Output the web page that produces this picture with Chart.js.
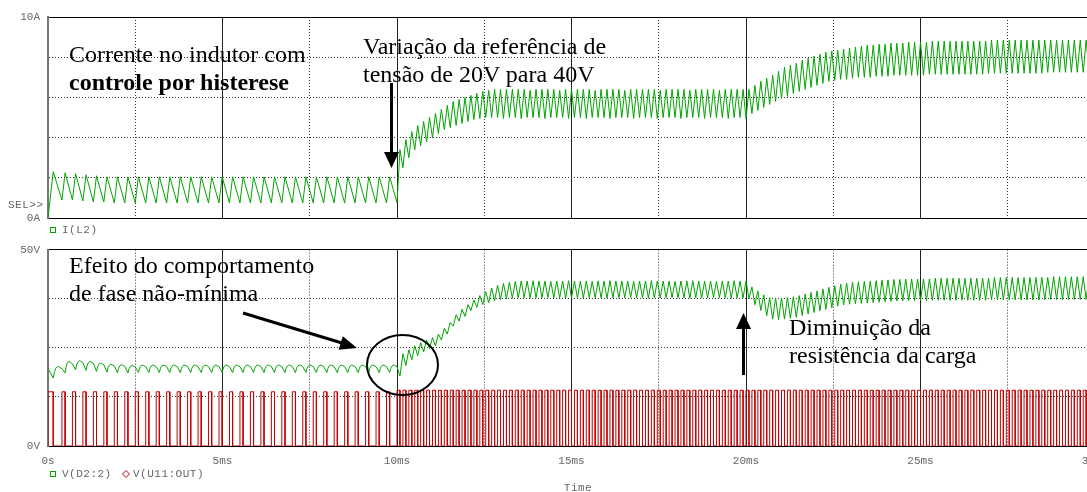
<!DOCTYPE html>
<html>
<head>
<meta charset="utf-8">
<script src="https://cdn.jsdelivr.net/npm/chart.js@4.4.1/dist/chart.umd.min.js"></script>
<style>
  html, body { margin: 0; padding: 0; background: #fff; overflow: hidden; }
  #caixa { position: relative; width: 1087px; height: 492px; overflow: hidden; }
  canvas { position: absolute; left: 0; }
  #topo { top: 0; }
  #baixo { top: 235px; }
  .nota { position: absolute; font-family: "Liberation Serif", "Times New Roman", serif; font-size: 24px; line-height: 28px; color: #000; white-space: nowrap; }
  svg { position: absolute; left: 0; top: 0; }
</style>
</head>
<body>
<div id="caixa">
  <canvas id="topo" width="1125" height="235"></canvas>
  <canvas id="baixo" width="1125" height="257"></canvas>

  <div class="nota" style="left:69px; top:40px">Corrente no indutor com<br><b>controle por histerese</b></div>
  <div class="nota" style="left:363px; top:32px">Variação da referência de<br>tensão de 20V para 40V</div>
  <div class="nota" style="left:69px; top:251px">Efeito do comportamento<br>de fase não-mínima</div>
  <div class="nota" style="left:789px; top:313px">Diminuição da<br>resistência da carga</div>

  <svg width="1087" height="492">
    <line x1="391.5" y1="83" x2="391.5" y2="153" stroke="#000" stroke-width="3"/>
    <polygon points="384,152 399,152 391.5,168" fill="#000"/>
    <line x1="243" y1="313" x2="342" y2="343" stroke="#000" stroke-width="3"/>
    <polygon points="338.6,349.7 342.8,336.3 357,348" fill="#000"/>
    <line x1="743.5" y1="375" x2="743.5" y2="328" stroke="#000" stroke-width="3"/>
    <polygon points="736,329 751,329 743.5,313" fill="#000"/>
    <ellipse cx="402.5" cy="365" rx="35.5" ry="30" fill="none" stroke="#000" stroke-width="2"/>
  </svg>
</div>

<script>
"use strict"

// ---- dados (tempo em ms) ----
// 0 a 10 ms: referência de 20 V
const primeiroPeriodo = 0.4
const primeiroLigado = 0.15
const periodoA = 0.3
const ligadoA = 0.09
const pulsoA = 13.8
const vInicio = 19.75

const iValeA = [0, 0.9, 0.9, 0.85, 0.8, 0.8, 0.75, 0.75, 0.75, 0.75, 0.75, 0.75, 0.75, 0.75, 0.75, 0.75, 0.75,
                0.75, 0.75, 0.75, 0.75, 0.75, 0.75, 0.75, 0.75, 0.75, 0.75, 0.75, 0.75, 0.75, 0.75, 0.75, 0.75]
const iPicoA = [2.3, 2.25, 2.2, 2.15, 2.1, 2.05, 2.05, 2.05, 2.05, 2.05, 2.05, 2.05, 2.05, 2.05, 2.05, 2.05, 2.05,
                2.05, 2.05, 2.05, 2.05, 2.05, 2.05, 2.05, 2.05, 2.05, 2.05, 2.05, 2.05, 2.05, 2.05, 2.05, 2.05]
const vValeA = [17.3, 18.6, 19.4, 19.25, 19.0, 18.8, 18.6, 18.6, 18.7, 18.7, 18.7, 18.7, 18.7, 18.7, 18.7, 18.7, 18.7,
                18.7, 18.7, 18.7, 18.7, 18.7, 18.7, 18.7, 18.7, 18.7, 18.7, 18.7, 18.7, 18.7, 18.7, 18.7, 18.7]
const vPicoA = [20.25, 21.5, 21.7, 21.5, 21.1, 20.8, 20.7, 20.5, 20.6, 20.6, 20.6, 20.6, 20.6, 20.6, 20.6, 20.6, 20.6,
                20.6, 20.6, 20.6, 20.6, 20.6, 20.6, 20.6, 20.6, 20.6, 20.6, 20.6, 20.6, 20.6, 20.6, 20.6, 20.6]

// 10 a 30 ms: referência de 40 V, carga muda em 20 ms
const inicioB = 10
const periodoB = 0.1695
const ligadoB = 0.085
const pulsoB = 14.2

const iValeB = [
  0.75, 2.5, 3.0, 3.4, 3.6, 3.8, 4.0, 4.2, 4.4, 4.5,
  4.6, 4.7, 4.8, 4.9, 4.95, 5.0, 5.0, 5.0, 4.95, 5.0,
  5.0, 4.95, 5.0, 5.0, 5.0, 4.95, 5.0, 5.0, 5.0, 4.95,
  5.0, 5.0, 4.95, 5.0, 5.0, 5.0, 4.95, 5.0, 5.0, 5.0,
  4.95, 5.0, 5.0, 5.0, 4.95, 5.0, 5.0, 5.0, 4.95, 5.0,
  5.0, 5.0, 4.95, 5.0, 5.0, 5.0, 4.95, 5.0, 5.0, 4.95,
  5.2, 5.35, 5.5, 5.65, 5.8, 5.95, 6.05, 6.2, 6.3, 6.4,
  6.5, 6.6, 6.7, 6.8, 6.85, 6.9, 6.9, 6.95, 7.0, 7.0,
  7.0, 7.05, 7.05, 7.05, 7.1, 7.1, 7.1, 7.1, 7.1, 7.1,
  7.15, 7.15, 7.15, 7.15, 7.15, 7.15, 7.15, 7.15, 7.15, 7.15,
  7.2, 7.2, 7.2, 7.2, 7.2, 7.2, 7.2, 7.2, 7.2, 7.2,
  7.25, 7.25, 7.25, 7.25, 7.25, 7.25, 7.25, 7.25]
const iPicoB = [
  3.4, 3.9, 4.3, 4.6, 4.8, 5.0, 5.2, 5.4, 5.6, 5.8,
  5.9, 6.0, 6.1, 6.2, 6.3, 6.35, 6.4, 6.4, 6.4, 6.4,
  6.4, 6.4, 6.35, 6.4, 6.4, 6.4, 6.4, 6.35, 6.4, 6.4,
  6.4, 6.4, 6.4, 6.35, 6.4, 6.4, 6.4, 6.4, 6.35, 6.4,
  6.4, 6.4, 6.4, 6.4, 6.35, 6.4, 6.4, 6.4, 6.4, 6.35,
  6.4, 6.4, 6.4, 6.4, 6.35, 6.4, 6.4, 6.4, 6.4, 6.4,
  6.6, 6.8, 6.95, 7.1, 7.3, 7.5, 7.6, 7.7, 7.85, 7.95,
  8.05, 8.15, 8.25, 8.3, 8.35, 8.4, 8.45, 8.5, 8.55, 8.6,
  8.6, 8.65, 8.65, 8.7, 8.7, 8.7, 8.75, 8.75, 8.75, 8.75,
  8.8, 8.8, 8.8, 8.8, 8.8, 8.8, 8.8, 8.8, 8.8, 8.8,
  8.85, 8.85, 8.85, 8.85, 8.85, 8.85, 8.85, 8.85, 8.85, 8.85,
  8.85, 8.85, 8.85, 8.85, 8.85, 8.85, 8.85, 8.85]
const vValeB = [
  17.8, 20.5, 22.0, 23.0, 24.0, 24.8, 25.5, 27.0, 28.5, 30.5,
  31.8, 33.0, 34.5, 35.3, 36.0, 36.5, 37.0, 37.3, 37.5, 37.6,
  37.7, 37.7, 37.6, 37.7, 37.7, 37.8, 37.7, 37.7, 37.6, 37.7,
  37.7, 37.7, 37.8, 37.7, 37.7, 37.6, 37.7, 37.7, 37.7, 37.8,
  37.7, 37.7, 37.6, 37.7, 37.7, 37.7, 37.8, 37.7, 37.7, 37.6,
  37.7, 37.7, 37.7, 37.8, 37.7, 37.7, 37.6, 37.7, 37.7, 37.5,
  36.0, 34.5, 33.2, 32.3, 32.2, 32.3, 32.5, 32.8, 33.2, 33.6,
  34.0, 34.4, 34.8, 35.2, 35.6, 35.9, 36.1, 36.2, 36.3, 36.4,
  36.5, 36.6, 36.7, 36.8, 36.9, 37.0, 37.0, 37.0, 37.0, 37.0,
  37.1, 37.1, 37.1, 37.1, 37.1, 37.1, 37.1, 37.1, 37.1, 37.1,
  37.2, 37.2, 37.2, 37.2, 37.2, 37.2, 37.2, 37.2, 37.2, 37.2,
  37.3, 37.3, 37.3, 37.3, 37.3, 37.3, 37.3, 37.3]
const vPicoB = [
  23.5, 24.5, 25.5, 26.3, 27.0, 27.6, 28.5, 30.0, 31.5, 33.4,
  34.8, 36.0, 37.2, 38.3, 39.3, 40.2, 40.9, 41.4, 41.7, 41.9,
  42.0, 42.0, 42.1, 42.0, 42.0, 41.9, 42.0, 42.0, 42.1, 42.0,
  42.0, 42.0, 41.9, 42.0, 42.0, 42.1, 42.0, 42.0, 42.0, 41.9,
  42.0, 42.0, 42.1, 42.0, 42.0, 42.0, 41.9, 42.0, 42.0, 42.1,
  42.0, 42.0, 42.0, 41.9, 42.0, 42.0, 42.1, 42.0, 42.0, 40.5,
  39.5, 38.5, 37.8, 37.7, 37.7, 37.8, 38.0, 38.3, 38.7, 39.1,
  39.5, 40.0, 40.4, 40.8, 41.2, 41.5, 41.7, 41.8, 41.9, 42.0,
  42.1, 42.2, 42.3, 42.4, 42.4, 42.5, 42.5, 42.5, 42.5, 42.5,
  42.7, 42.7, 42.7, 42.7, 42.7, 42.7, 42.7, 42.7, 42.7, 42.7,
  42.9, 42.9, 42.9, 42.9, 42.9, 42.9, 42.9, 42.9, 42.9, 42.9,
  43.1, 43.1, 43.1, 43.1, 43.1, 43.1, 43.1, 43.1]

// forma da tensão depois do desligamento (fração do tempo desligado, fração vale->pico)
const formaCorcova = [[0.15, 0.55], [0.3, 0.85], [0.5, 1], [0.7, 0.95], [1, 0.8]]

const tempoMax = 30
const rotulosX = ["0s", "5ms", "10ms", "15ms", "20ms", "25ms", "30ms"]

// ---- montagem das séries ----
let pontosI = []
let pontosV = [{x: 0, y: vInicio}]
let pontosPulso = []

let t = 0
for (let k = 0; k < iValeA.length; k++) {
    let T = k == 0 ? primeiroPeriodo : periodoA
    let on = k == 0 ? primeiroLigado : ligadoA
    pontosI.push({x: t, y: iValeA[k]}, {x: t + on, y: iPicoA[k]})
    pontosV.push({x: t + on, y: vValeA[k]})
    formaCorcova.forEach(f => {
        pontosV.push({x: t + on + f[0] * (T - on), y: vValeA[k] + f[1] * (vPicoA[k] - vValeA[k])})
    })
    pontosPulso.push({x: t, y: 0}, {x: t, y: pulsoA}, {x: t + on, y: pulsoA}, {x: t + on, y: 0})
    t += T
}
for (let k = 0; k < iValeB.length; k++) {
    let t0 = inicioB + k * periodoB
    pontosI.push({x: t0, y: iValeB[k]}, {x: t0 + ligadoB, y: iPicoB[k]})
    pontosV.push({x: t0 + ligadoB, y: vValeB[k]}, {x: t0 + periodoB, y: vPicoB[k]})
    pontosPulso.push({x: t0, y: 0}, {x: t0, y: pulsoB}, {x: t0 + ligadoB, y: pulsoB}, {x: t0 + ligadoB, y: 0})
}
pontosI.push({x: tempoMax, y: iValeB[iValeB.length - 1]})
pontosPulso.push({x: tempoMax, y: 0})

// ---- aparência ----
const verde = "#00a400"
const vermelho = "#c40000"
const cinza = "#666"
const fonteMono = {family: "'Liberation Mono', 'DejaVu Sans Mono', monospace", size: 11}

Chart.defaults.animation = false
Chart.defaults.responsive = false
Chart.defaults.devicePixelRatio = 1

function eixoX(comRotulos, altura) {
    return {
        type: "linear", min: 0, max: tempoMax,
        ticks: {
            stepSize: 2.5, autoSkip: false, maxRotation: 0, display: comRotulos,
            padding: 8, color: cinza, font: fonteMono,
            callback: v => v % 5 == 0 ? rotulosX[v / 5] : ""
        },
        grid: { drawTicks: false, color: c => (c.tick && c.tick.value % 5 == 0) ? "#222" : "#333" },
        border: { color: "#000", dash: c => (c.tick && c.tick.value % 5 != 0) ? [1, 2] : [] },
        afterFit: s => { s.height = altura }
    }
}

function eixoY(max, passo, unidade) {
    return {
        min: 0, max: max,
        ticks: {
            stepSize: passo, padding: 8, color: cinza, font: fonteMono,
            callback: v => (v == 0 || v == max) ? v + unidade : ""
        },
        grid: { drawTicks: false, color: c => (c.tick && c.tick.value == max) ? "#000" : "#333" },
        border: { color: "#777", width: 2, dash: c => (c.tick && c.tick.value > 0 && c.tick.value < max) ? [1, 2] : [] },
        afterFit: s => { s.width = 48 }
    }
}

function textoMono(ctx, texto, x, y, cor, alinhar) {
    ctx.font = "11px 'Liberation Mono', monospace"
    ctx.letterSpacing = "0.5px"
    ctx.fillStyle = cor
    ctx.textAlign = alinhar || "left"
    ctx.textBaseline = "middle"
    ctx.fillText(texto, x, y)
}

let grafTopo = new Chart(document.querySelector("#topo"), {
    type: "line",
    data: {
        datasets: [{
            label: "I(L2)",
            data: pontosI,
            borderColor: verde,
            borderWidth: 1,
            pointRadius: 0,
            tension: 0
        }]
    },
    options: {
        layout: { padding: { top: 17, right: 30, left: 0, bottom: 0 } },
        plugins: { legend: { display: false }, tooltip: { enabled: false } },
        scales: { x: eixoX(false, 17), y: eixoY(10, 2, "A") }
    },
    plugins: [{
        id: "legendaTopo",
        afterDraw(chart) {
            let ctx = chart.ctx
            ctx.save()
            textoMono(ctx, "SEL>>", 8, 205, cinza)
            ctx.strokeStyle = verde
            ctx.lineWidth = 1
            ctx.strokeRect(50.5, 227.5, 5, 5)
            textoMono(ctx, chart.data.datasets[0].label, 62, 230, cinza)
            ctx.restore()
        }
    }]
})

let grafBaixo = new Chart(document.querySelector("#baixo"), {
    type: "line",
    data: {
        datasets: [{
            label: "V(D2:2)",
            data: pontosV,
            borderColor: verde,
            borderWidth: 1,
            pointRadius: 0,
            tension: 0
        }, {
            label: "V(U11:OUT)",
            data: pontosPulso,
            borderColor: vermelho,
            borderWidth: 1,
            pointRadius: 0,
            tension: 0
        }]
    },
    options: {
        layout: { padding: { top: 10, right: 30, left: 0, bottom: 0 } },
        plugins: { legend: { display: false }, tooltip: { enabled: false } },
        scales: { x: eixoX(true, 46), y: eixoY(50, 12.5, "V") }
    },
    plugins: [{
        id: "legendaBaixo",
        afterDraw(chart) {
            let ctx = chart.ctx
            let ds = chart.data.datasets
            ctx.save()
            ctx.lineWidth = 1
            ctx.strokeStyle = verde
            ctx.strokeRect(50.5, 236.5, 5, 5)
            textoMono(ctx, ds[0].label, 62, 239, cinza)
            ctx.strokeStyle = vermelho
            ctx.beginPath()
            ctx.moveTo(126, 235.5)
            ctx.lineTo(129.5, 239)
            ctx.lineTo(126, 242.5)
            ctx.lineTo(122.5, 239)
            ctx.closePath()
            ctx.stroke()
            textoMono(ctx, ds[1].label, 133, 239, cinza)
            textoMono(ctx, "Time", 578, 253, cinza, "center")
            ctx.restore()
        }
    }]
})
</script>
</body>
</html>
